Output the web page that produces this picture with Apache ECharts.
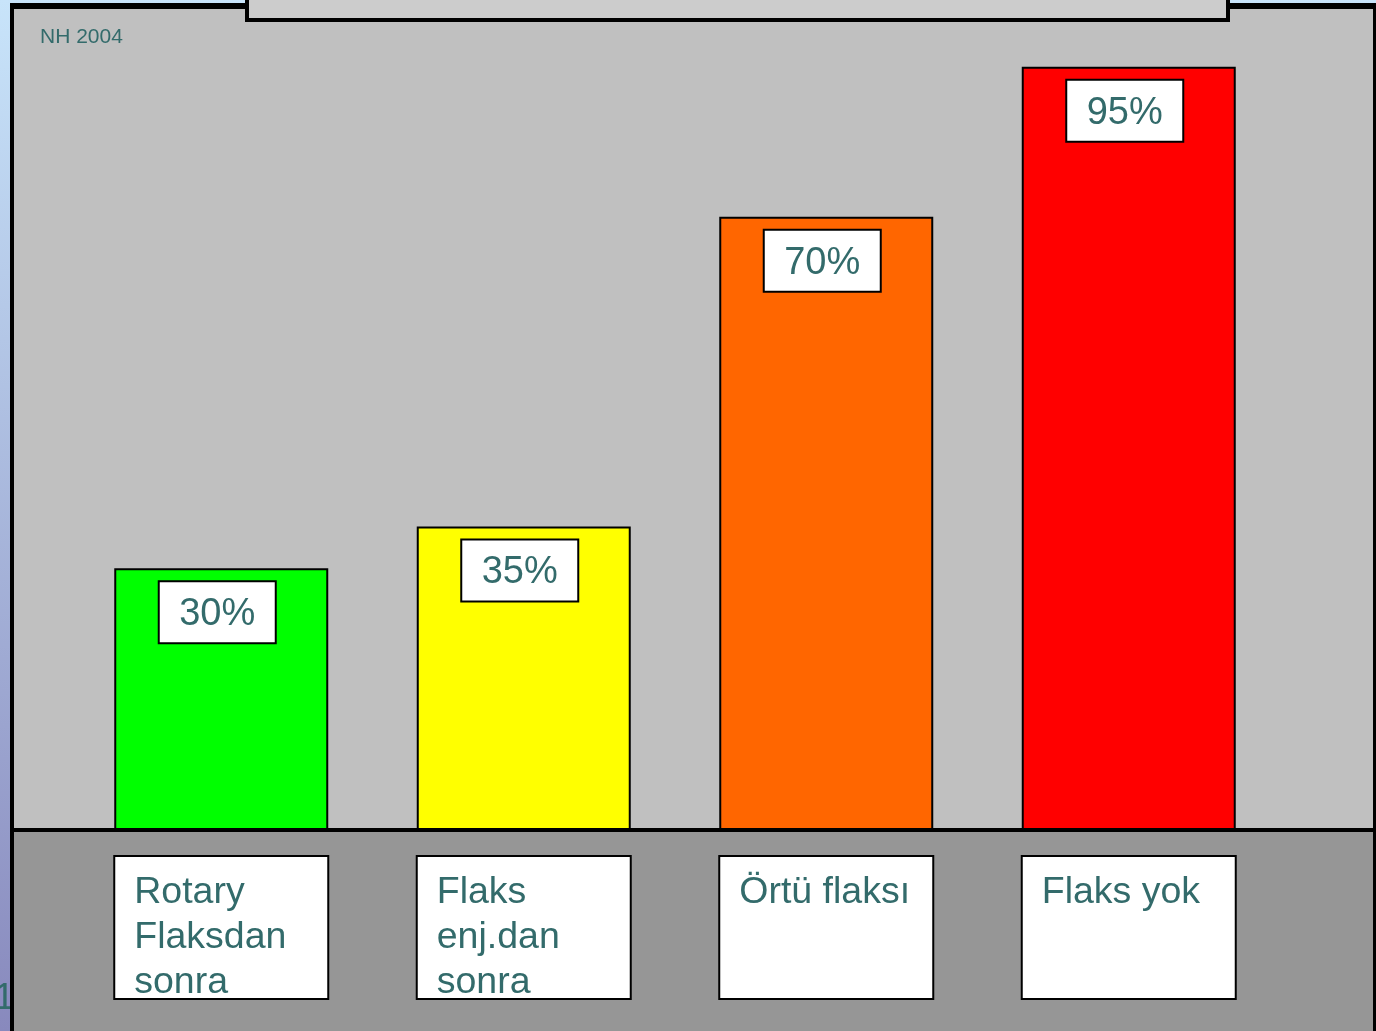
<!DOCTYPE html>
<html>
<head>
<meta charset="utf-8">
<title>Flaks</title>
<script src="https://cdn.jsdelivr.net/npm/echarts@6/dist/echarts.min.js"></script>
<style>
  html, body { margin: 0; padding: 0; background: #c8e2f8; }
  #chart { width: 1376px; height: 1031px; }
</style>
</head>
<body>
<div id="chart"></div>
<script>
// categories and values
const categories = ['Rotary\nFlaksdan\nsonra', 'Flaks\nenj.dan\nsonra', 'Örtü flaksı', 'Flaks yok'];
const percentLabels = [30, 35, 70, 95];
// drawn bar heights (the 95% bar is drawn shorter than scale on the slide)
const barHeights = [30, 34.8, 70.3, 87.5];
const barColors = ['#00ff00', '#ffff00', '#ff6600', '#ff0000'];

const textColor = '#336b6b';
const font = '"Liberation Sans", Arial, sans-serif';

const chart = echarts.init(document.getElementById('chart'));

chart.setOption({
  animation: false,
  backgroundColor: {
    type: 'linear', x: 0, y: 0, x2: 0, y2: 1,
    colorStops: [
      { offset: 0, color: '#c8e4fa' },
      { offset: 1, color: '#8889bd' },
    ],
  },
  graphic: [
    {
      type: 'text', left: -6, top: 980, z: -30,
      style: { text: '1', font: '37px ' + font, fill: textColor },
    },
    {
      type: 'rect', z: -20,
      shape: { x: 10, y: 3, width: 1366, height: 1040 },
      style: { fill: '#000000' },
    },
    {
      type: 'rect', z: -10,
      shape: { x: 14, y: 9, width: 1359, height: 819 },
      style: { fill: '#c0c0c0' },
    },
    {
      type: 'rect', z: -10,
      shape: { x: 14, y: 832, width: 1359, height: 210 },
      style: { fill: '#969696' },
    },
    {
      type: 'rect', z: 50,
      shape: { x: 247, y: -10, width: 981, height: 30 },
      style: { fill: '#cccccc', stroke: '#000000', lineWidth: 4 },
    },
    {
      type: 'text', left: 40, top: 27, z: 50,
      style: { text: 'NH 2004', font: '21px ' + font, fill: textColor },
    },
  ],
  grid: { left: 70, right: 96, top: 45, bottom: 201 },
  xAxis: {
    type: 'category',
    data: categories,
    axisLine: { show: true, lineStyle: { color: '#000000', width: 4 } },
    axisTick: { show: false },
    axisLabel: {
      interval: 0,
      margin: 27,
      width: 193,
      height: 128,
      padding: [13, 0, 0, 19],
      backgroundColor: '#ffffff',
      borderColor: '#000000',
      borderWidth: 2,
      formatter: (value) => value.split('\n').map((line) => '{t|' + line + '}').join('\n'),
      rich: {
        t: {
          fontFamily: font,
          fontSize: 37.5,
          lineHeight: 45,
          color: textColor,
          align: 'left',
        },
      },
    },
  },
  yAxis: {
    type: 'value',
    min: 0,
    max: 90,
    show: false,
    splitLine: { show: false },
  },
  series: [
    {
      type: 'bar',
      barWidth: 214,
      data: barHeights.map((value, index) => ({
        value,
        itemStyle: { color: barColors[index] },
        label: { formatter: percentLabels[index] + '%' },
      })),
      itemStyle: { borderColor: '#000000', borderWidth: 2 },
      label: {
        show: true,
        position: 'insideTop',
        distance: 14,
        offset: [-4, 0],
        width: 115,
        height: 60,
        lineHeight: 65,
        align: 'center',
        backgroundColor: '#ffffff',
        borderColor: '#000000',
        borderWidth: 2,
        fontFamily: font,
        fontSize: 38,
        color: textColor,
      },
    },
  ],
});
</script>
</body>
</html>
